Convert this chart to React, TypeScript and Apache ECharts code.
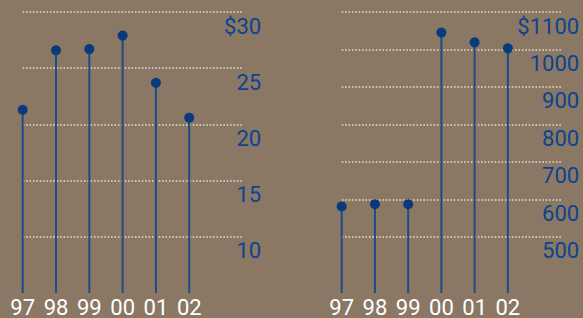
import React, { useEffect, useRef } from "react";
import * as echarts from "echarts";

const years = ["97", "98", "99", "00", "01", "02"];
const leftValues = [21.3, 26.6, 26.7, 27.9, 23.7, 20.6];
const rightValues = [581, 587, 587, 1045, 1019, 1003];
const leftTicks = [10, 15, 20, 25, 30];
const rightTicks = [500, 600, 700, 800, 900, 1000, 1100];
const leftRange = [5, 30];
const rightRange = [350, 1100];
const X_MAX = 6.62;

const BG = "#8a7865";
const STEM = "#1c4b8c";
const DOT = "#083a7c";
const LABEL = "#0a4490";
const GRID = "#e4dccd";

function stemSeries(idx: number, values: number[], yMin: number) {
  return {
    type: "custom",
    xAxisIndex: idx,
    yAxisIndex: idx,
    encode: { x: 0, y: 1 },
    data: values.map((v, i) => [i, v]),
    renderItem: (_params: any, api: any) => {
      const x = api.value(0);
      const y = api.value(1);
      const top = api.coord([x, y]);
      const bottom = api.coord([x, yMin]);
      return {
        type: "group",
        children: [
          {
            type: "line",
            shape: { x1: top[0], y1: top[1], x2: bottom[0], y2: bottom[1] },
            style: { stroke: STEM, lineWidth: 2 },
          },
          {
            type: "circle",
            shape: { cx: top[0], cy: top[1], r: 5 },
            style: { fill: DOT },
          },
        ],
      };
    },
  };
}

function yAxis(idx: number, range: number[], ticks: number[], margin: number) {
  const maxTick = ticks[ticks.length - 1];
  return {
    type: "value",
    gridIndex: idx,
    position: "right",
    min: range[0],
    max: range[1],
    axisLine: { show: false },
    axisTick: { show: false, customValues: ticks },
    splitLine: {
      show: true,
      lineStyle: { color: GRID, width: 1.6, type: [1.6, 1.8] },
    },
    axisLabel: {
      customValues: ticks,
      color: LABEL,
      fontFamily: "Roboto",
      fontSize: 22,
      align: "right",
      verticalAlign: "top",
      padding: [3, 0, 0, 0],
      margin,
      formatter: (v: number) => (v === maxTick ? "$" + v : String(v)),
    },
  };
}

function xAxis(idx: number) {
  return {
    type: "value",
    gridIndex: idx,
    min: 0,
    max: X_MAX,
    interval: 1,
    axisLine: { show: false },
    axisTick: { show: false },
    splitLine: { show: false },
    axisLabel: {
      color: "#ffffff",
      fontFamily: "Roboto",
      fontSize: 22,
      margin: 3,
      showMaxLabel: false,
      formatter: (v: number) => (Number.isInteger(v) && years[v] !== undefined ? years[v] : ""),
    },
  };
}

export default function App() {
  const ref = useRef<HTMLDivElement>(null);
  useEffect(() => {
    if (!ref.current) return;
    const chart = echarts.init(ref.current, null, { renderer: "svg" });
    chart.setOption({
      animation: false,
      backgroundColor: BG,
      grid: [
        { left: 22.7, top: 12, width: 220.5, height: 284 },
        { left: 341.7, top: 12, width: 220, height: 284 },
      ],
      xAxis: [xAxis(0), xAxis(1)],
      yAxis: [
        yAxis(0, leftRange, leftTicks, 18),
        yAxis(1, rightRange, rightTicks, 17.5),
      ],
      series: [
        stemSeries(0, leftValues, leftRange[0]),
        stemSeries(1, rightValues, rightRange[0]),
      ],
    });
    return () => chart.dispose();
  }, []);
  return (
    <div
      ref={ref}
      style={{ position: "fixed", left: 0, top: 0, width: 583, height: 318 }}
    />
  );
}
